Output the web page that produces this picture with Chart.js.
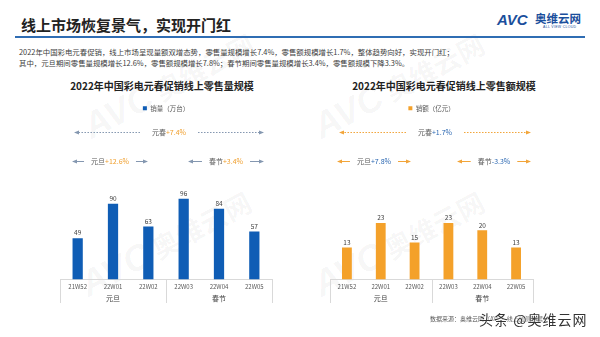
<!DOCTYPE html>
<html>
<head>
<meta charset="utf-8">
<script src="https://cdn.jsdelivr.net/npm/chart.js"></script>
<style>
  body { margin: 0; }
  #page { position: relative; width: 600px; height: 337px; background: #fff; overflow: hidden; font-family: "Noto Sans CJK SC", sans-serif; }
  .wm { position: absolute; height: 36px; line-height: 36px; white-space: nowrap; transform-origin: 0 100%; transform: rotate(-28deg); color: rgba(0,0,0,0.045); }
  .wm b { font: italic 900 36px "Liberation Sans", sans-serif; }
  .wm span { font: 700 27px "Noto Sans CJK SC", sans-serif; margin-left: 6px; }
  #head { position: absolute; left: 21px; top: 15px; font-size: 15px; font-weight: 700; color: #222; line-height: 20px; }
  #rule { position: absolute; left: 15px; top: 36px; width: 570px; height: 2px; background: #2f6db3; }
  #logo-avc { position: absolute; left: 497px; top: 12px; font: italic 900 15px "Liberation Sans", sans-serif; color: #1b4f9c; line-height: 16px; }
  #logo-cn { position: absolute; left: 535px; top: 11px; font-size: 11.5px; font-weight: 700; color: #1b4f9c; line-height: 14px; }
  #logo-en { position: absolute; left: 543px; top: 25px; font: 3.5px "Liberation Sans", sans-serif; color: #1b4f9c; letter-spacing: 0.3px; }
  .lead { position: absolute; left: 19px; font-size: 7.4px; color: #404040; line-height: 9px; white-space: nowrap; }
  .ctitle { position: absolute; top: 79px; font-size: 10px; font-weight: 700; color: #222; line-height: 14px; transform: translateX(-50%); white-space: nowrap; }
  .box { position: absolute; top: 96px; width: 300px; height: 241px; }
  #source { position: absolute; left: 430px; top: 315px; font-size: 6px; color: #595959; line-height: 8px; white-space: nowrap; }
  #stamp { position: absolute; left: 479px; top: 310px; font-size: 14px; color: #333; letter-spacing: 1px; line-height: 18px; white-space: nowrap; text-shadow: 0 0 2px #fff, 0 0 2px #fff; }
</style>
</head>
<body>
<div id="page">
  <div class="wm" style="left:93px; top:106px;"><b>AVC</b><span>奥维云网</span></div>
  <div class="wm" style="left:90px; top:264px;"><b>AVC</b><span>奥维云网</span></div>
  <div class="wm" style="left:323px; top:106px;"><b>AVC</b><span>奥维云网</span></div>
  <div class="wm" style="left:323px; top:264px;"><b>AVC</b><span>奥维云网</span></div>

  <div id="head">线上市场恢复景气，实现开门红</div>
  <div id="logo-avc">AVC</div>
  <div id="logo-cn">奥维云网</div>
  <div id="logo-en">ALL VIEW CLOUD</div>
  <div id="rule"></div>
  <div class="lead" style="top:47px;">2022年中国彩电元春促销，线上市场呈现量额双增态势，零售量规模增长7.4%，零售额规模增长1.7%，整体趋势向好，实现开门红；</div>
  <div class="lead" style="top:58px;">其中，元旦期间零售量规模增长12.6%，零售额规模增长7.8%；春节期间零售量规模增长3.4%，零售额规模下降3.3%。</div>

  <div class="ctitle" style="left:162px;">2022年中国彩电元春促销线上零售量规模</div>
  <div class="ctitle" style="left:444px;">2022年中国彩电元春促销线上零售额规模</div>

  <div class="box" style="left:0;"><canvas id="volChart" width="300" height="241"></canvas></div>
  <div class="box" style="left:300px;"><canvas id="amtChart" width="300" height="241"></canvas></div>

  <div id="source">数据来源：奥维云网（AVC）线上监测数据</div>
  <div id="stamp">头条 @奥维云网</div>
</div>

<script>
const weeks = ['21W52', '22W01', '22W02', '22W03', '22W04', '22W05'];
const periods = ['元旦', '春节'];
const volume = [49, 90, 63, 96, 84, 57];
const amount = [13, 23, 15, 23, 20, 13];
const noteNames = ['元春', '元旦', '春节'];
const volumeGrowth = ['+7.4%', '+12.6%', '+3.4%'];
const amountGrowth = ['+1.7%', '+7.8%', '-3.3%'];

Chart.defaults.font.family = '"Noto Sans CJK SC", sans-serif';

function arrowLine(ctx, from, to, y, dashed) {
  ctx.setLineDash(dashed ? [1.5, 1.5] : []);
  ctx.beginPath();
  ctx.moveTo(from, y);
  ctx.lineTo(to, y);
  ctx.stroke();
  ctx.setLineDash([]);
  const dir = Math.sign(to - from);
  ctx.beginPath();
  ctx.moveTo(to + dir, y);
  ctx.lineTo(to - dir * 4, y - 2);
  ctx.lineTo(to - dir * 4, y + 2);
  ctx.closePath();
  ctx.fill();
}

function spanNote(ctx, x1, x2, y, name, growth, o, gap, dashed) {
  ctx.font = '7px "Noto Sans CJK SC"';
  const w1 = ctx.measureText(name).width;
  const w2 = ctx.measureText(growth).width;
  const left = (x1 + x2) / 2 - (w1 + w2) / 2;
  ctx.textAlign = 'left';
  ctx.textBaseline = 'middle';
  ctx.fillStyle = '#595959';
  ctx.fillText(name, left, y);
  ctx.fillStyle = o.growthColor;
  ctx.fillText(growth, left + w1, y);
  ctx.strokeStyle = o.lineColor;
  ctx.fillStyle = o.lineColor;
  ctx.lineWidth = 1;
  arrowLine(ctx, left - gap, x1, y + 0.5, dashed);
  arrowLine(ctx, left + w1 + w2 + gap, x2, y + 0.5, dashed);
}

// value labels, period separators and growth notes
const decorations = {
  id: 'decorations',
  afterDraw(chart, args, o) {
    const ctx = chart.ctx;
    const area = chart.chartArea;
    const x2 = chart.scales.x2;
    const values = chart.data.datasets[0].data;
    ctx.save();

    ctx.font = '6.5px "Noto Sans CJK SC"';
    ctx.fillStyle = '#404040';
    ctx.textAlign = 'center';
    ctx.textBaseline = 'bottom';
    chart.getDatasetMeta(0).data.forEach((bar, i) => {
      ctx.fillText(values[i], bar.x, bar.y - 2);
    });

    ctx.strokeStyle = '#d9d9d9';
    ctx.lineWidth = 1;
    const mid = (x2.getPixelForValue(0) + x2.getPixelForValue(1)) / 2;
    [area.left, mid, area.right].forEach(px => {
      const p = Math.round(px) + 0.5;
      ctx.beginPath();
      ctx.moveTo(p, area.bottom);
      ctx.lineTo(p, x2.bottom - 1);
      ctx.stroke();
    });

    const s = area.left + o.inset[0];
    const e = area.right - o.inset[1];
    spanNote(ctx, s, e, o.rows[0], noteNames[0], o.growth[0], o, 12, true);
    spanNote(ctx, s - 2, s - 2 + o.groupSpan, o.rows[1], noteNames[1], o.growth[1], o, 7, false);
    spanNote(ctx, e - o.groupSpan, e, o.rows[1], noteNames[2], o.growth[2], o, 7, false);
    ctx.restore();
  }
};

function makeChart(id, values, label, color, max, pad, notes) {
  return new Chart(document.getElementById(id), {
    type: 'bar',
    data: {
      labels: weeks,
      datasets: [{
        label: label,
        data: values,
        backgroundColor: color,
        barPercentage: 0.29,
        categoryPercentage: 1
      }]
    },
    options: {
      responsive: false,
      animation: false,
      devicePixelRatio: 1,
      layout: { padding: pad },
      scales: {
        x: {
          grid: { display: false, drawTicks: false },
          border: { display: true, color: '#d9d9d9' },
          ticks: { font: { size: 6 }, color: '#595959', padding: 3.5, maxRotation: 0, autoSkip: false }
        },
        x2: {
          type: 'category',
          labels: periods,
          position: 'bottom',
          offset: true,
          grid: { display: false, drawTicks: false },
          border: { display: false },
          ticks: { font: { size: 7 }, color: '#404040', padding: 1 }
        },
        y: { display: false, min: 0, max: max }
      },
      plugins: {
        legend: {
          labels: { boxWidth: 4, boxHeight: 4, padding: 8, font: { size: 6.5 }, color: '#595959' }
        },
        tooltip: { enabled: false },
        decorations: notes
      }
    },
    plugins: [decorations]
  });
}

makeChart('volChart', volume, '销量（万台）', '#0f5db5', 188,
  { left: 60, right: 28, top: 1, bottom: 33 },
  { inset: [15, 9], groupSpan: 74, rows: [36, 65], growth: volumeGrowth, growthColor: '#f0a030', lineColor: '#8497b0' });

makeChart('amtChart', amount, '销额（亿元）', '#f4a12a', 64.4,
  { left: 30, right: 67, top: 1, bottom: 33 },
  { inset: [10, 3], groupSpan: 72, rows: [36, 65], growth: amountGrowth, growthColor: '#2f6ab3', lineColor: '#f2a53a' });
</script>
</body>
</html>
